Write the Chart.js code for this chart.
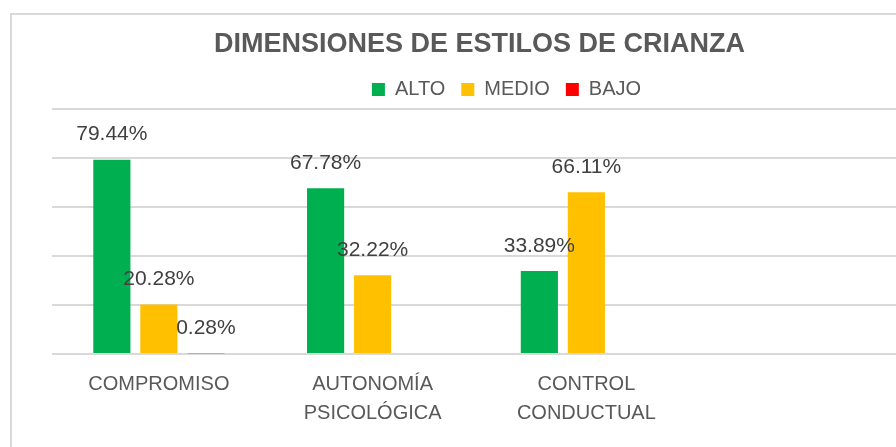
<!DOCTYPE html>
<html>
<head>
<meta charset="utf-8">
<script src="https://cdn.jsdelivr.net/npm/chart.js@4.4.0/dist/chart.umd.min.js"></script>
<style>
  html, body { margin: 0; padding: 0; background: #fff; overflow: hidden; }
  #frame { position: absolute; left: 10px; top: 13px; width: 940px; height: 460px; border: 2px solid #d9d9d9; }
  #myChart { position: absolute; left: 0; top: 0; }
</style>
</head>
<body>
<div id="frame"><canvas id="myChart" width="920" height="440"></canvas></div>
<script>
// datos del gráfico
const categorias = ["COMPROMISO", ["AUTONOMÍA", "PSICOLÓGICA"], ["CONTROL", "CONDUCTUAL"], ""];
const alto = [79.44, 67.78, 33.89, null];
const medio = [20.28, 32.22, 66.11, null];
const bajo = [0.28, null, null, null];
const ticksY = [0, 20, 40, 60, 80, 100];

const GRIS = "#595959";

// etiquetas encima de cada barra
const etiquetas = {
  id: "etiquetas",
  afterDatasetsDraw(chart) {
    const ctx = chart.ctx;
    ctx.save();
    ctx.font = "21px 'Liberation Sans', Arial, sans-serif";
    ctx.fillStyle = "#404040";
    ctx.textAlign = "center";
    ctx.textBaseline = "middle";
    chart.data.datasets.forEach((ds, i) => {
      chart.getDatasetMeta(i).data.forEach((bar, j) => {
        const v = ds.data[j];
        if (v === null) return;
        ctx.fillText(v.toFixed(2) + "%", bar.x, bar.y - 25);
      });
    });
    ctx.restore();
  }
};

// la leyenda va un poco a la derecha
const moverLeyenda = {
  id: "moverLeyenda",
  afterUpdate(chart) {
    const lg = chart.legend;
    lg.left += 27;
    lg.right += 27;
    lg.adjustHitBoxes();
  }
};

const myChart = new Chart(document.getElementById("myChart"), {
  type: "bar",
  data: {
    labels: categorias,
    datasets: [
      { label: "ALTO", data: alto, backgroundColor: "#00B050" },
      { label: "MEDIO", data: medio, backgroundColor: "#FFC000" },
      { label: "BAJO", data: bajo, backgroundColor: "#FF0000" },
    ],
  },
  options: {
    responsive: false,
    animation: false,
    categoryPercentage: 0.66,
    barPercentage: 0.79,
    layout: { padding: { left: 40, right: 25, top: 0, bottom: 19 } },
    plugins: {
      title: {
        display: true,
        text: "DIMENSIONES DE ESTILOS DE CRIANZA",
        color: GRIS,
        font: { family: "'Liberation Sans', Arial, sans-serif", size: 27, weight: "bold" },
        padding: { top: 13, bottom: 3 },
      },
      legend: {
        labels: {
          color: GRIS,
          font: { family: "'Liberation Sans', Arial, sans-serif", size: 20 },
          boxWidth: 13,
          boxHeight: 13,
          padding: 16,
        },
      },
      tooltip: { enabled: false },
    },
    scales: {
      y: {
        min: 0,
        max: 100,
        afterBuildTicks: (axis) => { axis.ticks = ticksY.map(v => ({ value: v })); },
        ticks: { display: false },
        grid: { color: "#d9d9d9", lineWidth: 2, drawTicks: false },
        border: { display: false },
      },
      x: {
        grid: { display: false },
        border: { display: false },
        ticks: {
          color: GRIS,
          padding: 8,
          maxRotation: 0,
          autoSkip: false,
          font: { family: "'Liberation Sans', Arial, sans-serif", size: 20, lineHeight: 1.45 },
        },
      },
    },
  },
  plugins: [etiquetas, moverLeyenda],
});
</script>
</body>
</html>
